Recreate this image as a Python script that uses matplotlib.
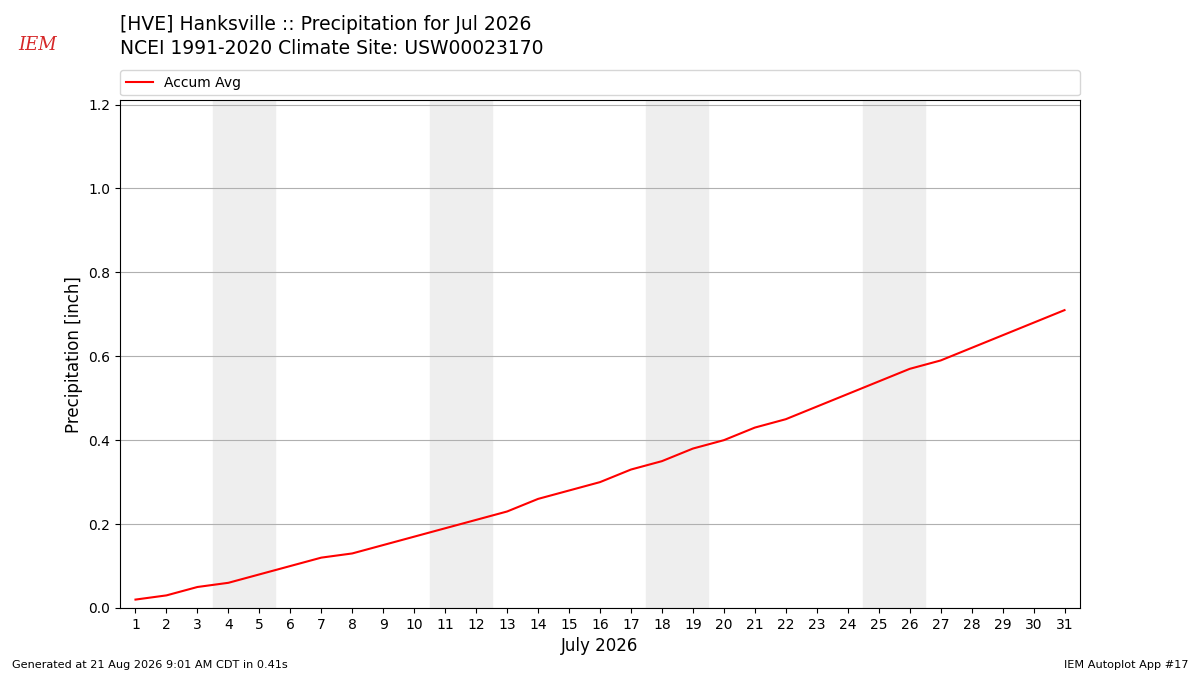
import matplotlib.pyplot as plt

# daily accumulated average precipitation, July
days = list(range(1, 32))
accum_avg = [0.02, 0.03, 0.05, 0.06, 0.08, 0.10, 0.12, 0.13, 0.15, 0.17,
             0.19, 0.21, 0.23, 0.26, 0.28, 0.30, 0.33, 0.35, 0.38, 0.40,
             0.43, 0.45, 0.48, 0.51, 0.54, 0.57, 0.59, 0.62, 0.65, 0.68, 0.71]
weekends = [(4, 5), (11, 12), (18, 19), (25, 26)]
yticks = [0.0, 0.2, 0.4, 0.6, 0.8, 1.0, 1.2]

fig = plt.figure(figsize=(12, 6.75), dpi=100)
ax = fig.add_axes([0.1, 0.0993, 0.8, 0.752])

for sat, sun in weekends:
    ax.axvspan(sat - 0.5, sun + 0.5, color="#eeeeee", zorder=0)

ax.plot(days, accum_avg, color="r", lw=1.5, label="Accum Avg", zorder=3)

ax.set_xlim(0.5, 31.5)
ax.set_ylim(0, 1.21)
ax.set_xticks(days)
ax.set_yticks(yticks)
ax.grid(True, axis="y", color="#b0b0b0", lw=0.8)
ax.set_axisbelow(True)
ax.set_xlabel("July 2026", fontsize=12)
ax.set_ylabel("Precipitation [inch]", fontsize=12)
ax.legend(loc="lower left", bbox_to_anchor=(0, 1.01, 1, 0.05), mode="expand",
          ncol=1, borderaxespad=0, fontsize=10)

fig.text(0.1, 0.964, "[HVE] Hanksville :: Precipitation for Jul 2026",
         fontsize=13.5, va="center")
fig.text(0.1, 0.928, "NCEI 1991-2020 Climate Site: USW00023170",
         fontsize=13.5, va="center")

# IEM logo stand-in
fig.text(0.031, 0.934, "IEM", color="#d62728", fontsize=13, style="italic",
         family="DejaVu Serif", va="center", ha="center")

fig.text(0.01, 0.0148, "Generated at 21 Aug 2026 9:01 AM CDT in 0.41s",
         fontsize=8.1, va="center")
fig.text(0.99, 0.0148, "IEM Autoplot App #17", fontsize=8.1, ha="right",
         va="center")

fig.savefig("out.png", dpi=100)
